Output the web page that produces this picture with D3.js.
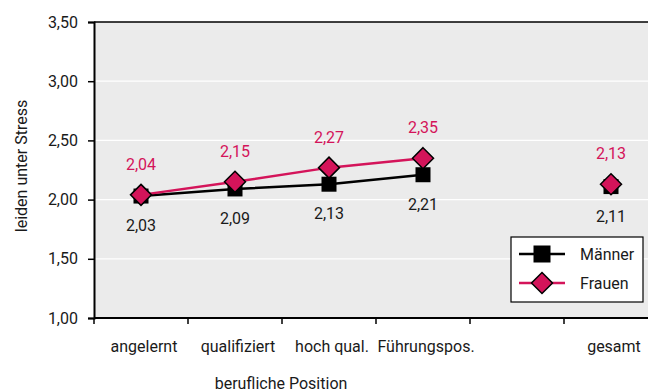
<!DOCTYPE html>
<html>
<head>
<meta charset="utf-8">
<script src="https://cdn.jsdelivr.net/npm/d3@7"></script>
<style>
  html, body { margin: 0; padding: 0; background: #fff; }
  svg { display: block; font-family: Roboto, "Liberation Sans", Arial, sans-serif; }
</style>
</head>
<body>
<svg id="chart" width="648" height="392"></svg>
<script>
// Stress level by professional position, men vs. women
const categories = ["angelernt", "qualifiziert", "hoch qual.", "Führungspos.", "", "gesamt"];
const maenner = [2.03, 2.09, 2.13, 2.21, null, 2.11];
const frauen  = [2.04, 2.15, 2.27, 2.35, null, 2.13];
const yTicks = [1.0, 1.5, 2.0, 2.5, 3.0, 3.5];
const seriesNames = ["Männer", "Frauen"];

const pink = "#d4145a";
const ink = "#1a1a1a";
const fs = 16;
const fmt = v => d3.format(".2f")(v).replace(".", ",");

const svg = d3.select("#chart");
const margin = { left: 94, top: 22, bottom: 318, right: 658 };

// band keys need to be unique, so the empty slot gets an index-based key
const keys = categories.map((c, i) => i);
const x = d3.scaleBand().domain(keys).range([margin.left, margin.right]);
const y = d3.scaleLinear().domain([1.0, 3.5]).range([margin.bottom, margin.top]);

// plot background
svg.append("rect")
  .attr("x", margin.left).attr("y", margin.top)
  .attr("width", margin.right - margin.left).attr("height", margin.bottom - margin.top)
  .attr("fill", "#ebebeb");

// horizontal gridlines
svg.append("g").selectAll("line")
  .data(yTicks.filter(t => t > 1.0 && t < 3.5))
  .join("line")
  .attr("x1", margin.left).attr("x2", margin.right)
  .attr("y1", d => y(d)).attr("y2", d => y(d))
  .attr("stroke", "#fff").attr("stroke-width", 1.2);

// top border
svg.append("line")
  .attr("x1", margin.left).attr("x2", margin.right)
  .attr("y1", margin.top).attr("y2", margin.top)
  .attr("stroke", "#000").attr("stroke-width", 1.5);

// y axis
const yAxis = svg.append("g")
  .attr("transform", `translate(${margin.left},0)`)
  .call(d3.axisLeft(y).tickValues(yTicks).tickFormat(fmt).tickSize(6).tickPadding(10));
yAxis.select(".domain").attr("stroke-width", 2);
yAxis.selectAll(".tick line").attr("stroke-width", 1.5);
yAxis.selectAll("text").attr("font-size", fs).attr("fill", ink)
  .attr("font-family", "Roboto, Liberation Sans, Arial, sans-serif");

// x axis: tick marks at band boundaries
const xAxis = svg.append("g").attr("transform", `translate(0,${margin.bottom})`);
xAxis.append("line")
  .attr("x1", margin.left).attr("x2", margin.right)
  .attr("stroke", "#000").attr("stroke-width", 2);
xAxis.selectAll("line.tk")
  .data(keys.concat([keys.length]))
  .join("line").attr("class", "tk")
  .attr("x1", d => margin.left + d * x.step()).attr("x2", d => margin.left + d * x.step())
  .attr("y1", 0).attr("y2", 6)
  .attr("stroke", "#000").attr("stroke-width", 1.5);
xAxis.selectAll("text")
  .data(keys.filter(i => categories[i] !== ""))
  .join("text")
  .attr("x", d => x(d) + x.bandwidth() / 2 + 3)
  .attr("y", 34)
  .attr("text-anchor", "middle")
  .attr("font-size", fs).attr("fill", ink)
  .text(d => categories[d]);

// axis titles
svg.append("text")
  .attr("transform", "translate(27,166) rotate(-90)")
  .attr("text-anchor", "middle")
  .attr("font-size", fs).attr("fill", ink)
  .text("leiden unter Stress");
svg.append("text")
  .attr("x", 281).attr("y", 389)
  .attr("text-anchor", "middle")
  .attr("font-size", fs).attr("fill", ink)
  .text("berufliche Position");

const cx = i => x(i) + x.bandwidth() / 2;
const line = d3.line()
  .defined(d => d.v != null)
  .x(d => cx(d.i)).y(d => y(d.v));

const mData = maenner.map((v, i) => ({ i, v }));
const fData = frauen.map((v, i) => ({ i, v }));

// Männer line + square markers
svg.append("path").datum(mData)
  .attr("d", line).attr("fill", "none")
  .attr("stroke", "#000").attr("stroke-width", 2.5);
svg.append("g").selectAll("rect")
  .data(mData.filter(d => d.v != null))
  .join("rect")
  .attr("x", d => cx(d.i) - 7.5).attr("y", d => y(d.v) - 7.5)
  .attr("width", 15).attr("height", 15)
  .attr("fill", "#000");

// Frauen line + diamond markers
svg.append("path").datum(fData)
  .attr("d", line).attr("fill", "none")
  .attr("stroke", pink).attr("stroke-width", 2.5);
const diamond = r => `M0,${-r}L${r},0L0,${r}L${-r},0Z`;
svg.append("g").selectAll("path")
  .data(fData.filter(d => d.v != null))
  .join("path")
  .attr("transform", d => `translate(${cx(d.i)},${y(d.v)})`)
  .attr("d", diamond(10.5))
  .attr("fill", pink).attr("stroke", "#000").attr("stroke-width", 1.5);

// value labels: men below the markers, women above
svg.append("g").selectAll("text")
  .data(mData.filter(d => d.v != null))
  .join("text")
  .attr("x", d => cx(d.i)).attr("y", d => y(d.v) + 29 + 6)
  .attr("text-anchor", "middle").attr("font-size", fs).attr("fill", ink)
  .text(d => fmt(d.v));
svg.append("g").selectAll("text")
  .data(fData.filter(d => d.v != null))
  .join("text")
  .attr("x", d => cx(d.i)).attr("y", d => y(d.v) - 31 + 6)
  .attr("text-anchor", "middle").attr("font-size", fs).attr("fill", pink)
  .text(d => fmt(d.v));

// legend
const lg = svg.append("g").attr("transform", "translate(511,237)");
lg.append("rect").attr("width", 132).attr("height", 65)
  .attr("fill", "#fff").attr("stroke", "#000").attr("stroke-width", 1.2);
const rows = lg.selectAll("g.row").data(seriesNames).join("g").attr("class", "row")
  .attr("transform", (d, i) => `translate(0,${17 + i * 29})`);
rows.append("line").attr("x1", 8).attr("x2", 54)
  .attr("stroke", (d, i) => i === 0 ? "#000" : pink).attr("stroke-width", 2.5);
rows.filter((d, i) => i === 0).append("rect")
  .attr("x", 31 - 8.5).attr("y", -8.5).attr("width", 17).attr("height", 17).attr("fill", "#000");
rows.filter((d, i) => i === 1).append("path")
  .attr("transform", "translate(31,0)").attr("d", diamond(10.5))
  .attr("fill", pink).attr("stroke", "#000").attr("stroke-width", 1.5);
rows.append("text").attr("x", 69).attr("y", 6)
  .attr("font-size", fs).attr("fill", ink)
  .text(d => d);
</script>
</body>
</html>
